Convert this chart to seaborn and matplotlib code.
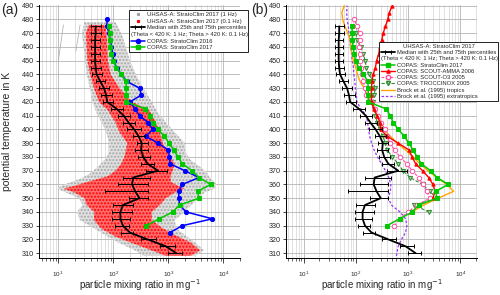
import numpy as np
import matplotlib
matplotlib.use('Agg')
import matplotlib.pyplot as plt
from matplotlib.lines import Line2D
from matplotlib.ticker import LogLocator, NullFormatter, MultipleLocator
import seaborn as sns

# UHSAS-A median profile (5 K bins) with 25th / 75th percentiles, mg^-1
med_theta = [310, 315, 320, 325, 330, 335, 340, 345, 350, 355, 360, 365, 370, 375, 380, 385, 390,
             395, 400, 405, 410, 415, 420, 425, 430, 435, 440, 445, 450, 455, 460, 465, 470, 475]
med_val = [1400, 900, 420, 200, 150, 135, 135, 150, 300, 250, 220, 230, 650, 420, 350, 320, 330,
           290, 240, 190, 155, 115, 78, 74, 68, 58, 50, 48, 47, 47, 47, 47, 48, 48]
med_p25 = [1000, 700, 320, 140, 110, 95, 95, 100, 190, 70, 120, 150, 400, 320, 280, 250, 270,
           230, 180, 150, 120, 90, 65, 60, 55, 48, 42, 40, 40, 40, 40, 40, 40, 40]
med_p75 = [1800, 1300, 600, 230, 190, 200, 220, 230, 420, 420, 420, 470, 950, 550, 460, 420, 420,
           380, 320, 250, 200, 150, 100, 95, 85, 72, 62, 60, 58, 58, 58, 58, 60, 60]

# UHSAS-A single measurements: envelope of the 1 Hz (grey) and 0.1 Hz (red) clouds
gray_theta = [308, 312, 318, 322, 328, 334, 340, 345, 350, 354, 357, 360, 364, 368, 372, 378, 384,
              390, 398, 405, 412, 420, 430, 440, 450, 460, 470, 478]
gray_lo = [350, 250, 120, 80, 45, 25, 22, 28, 24, 14, 9.5, 13, 25, 38, 50, 70, 85,
           85, 75, 62, 50, 42, 38, 33, 31, 29, 27, 30]
gray_hi = [3000, 4500, 3000, 2200, 1400, 1300, 2000, 2600, 3600, 4500, 7000, 7500, 6000, 5000, 4000,
           2500, 2000, 2000, 1300, 900, 650, 500, 350, 260, 200, 170, 140, 110]
red_theta = [308, 312, 318, 322, 328, 334, 340, 345, 350, 354, 357, 359, 362, 366, 370, 375, 380,
             385, 390, 398, 405, 414, 420, 430, 440, 450, 460, 470, 476]
red_lo = [900, 500, 200, 110, 60, 45, 45, 33, 30, 20, 12.5, 20, 35, 80, 110, 140, 160,
          170, 180, 130, 110, 80, 55, 45, 38, 34, 33, 32, 36]
red_hi = [2500, 3800, 2500, 1500, 800, 500, 500, 700, 900, 1300, 2000, 1500, 1100, 1100, 1200, 1300,
          1100, 900, 800, 700, 600, 450, 220, 130, 90, 80, 78, 76, 70]
streak1_theta = [476, 450]
streak1_val = [12.5, 10.1]
streak2_theta = [476, 457]
streak2_val = [25, 21]

# COPAS StratoClim 2016
sc16_theta = [325, 330, 335, 340, 345, 350, 355, 360, 365, 370, 375, 380, 385, 390, 395, 400, 405,
              410, 415, 420, 425, 430, 435, 440, 445, 450, 455, 460, 465, 470, 475, 480]
sc16_val = [1070, 1800, 6300, 2100, 1600, 1550, 1550, 1800, 3600, 2000, 1070, 1050, 1000, 650, 390,
            520, 430, 300, 250, 200, 325, 300, 175, 141, 115, 102, 98, 93, 88, 84, 77, 77]

# COPAS StratoClim 2017
sc17_theta = [330, 335, 340, 345, 350, 355, 360, 365, 370, 375, 380, 385, 390, 395, 400, 405, 410,
              415, 420, 425, 430, 435, 440, 445, 450, 455, 460, 465, 470, 475]
sc17_val = [395, 690, 1200, 1600, 3600, 3400, 5900, 3600, 2700, 1800, 1500, 1250, 1040, 850, 650,
            520, 460, 380, 173, 173, 173, 170, 140, 114, 99, 93, 89, 86, 86, 84]

# COPAS SCOUT-AMMA 2006
amma_theta = [350, 355, 360, 365, 370, 375, 380, 385, 390, 395, 400, 405, 410, 415, 420, 425, 430,
              435, 440, 445, 450, 455, 460, 465, 470, 475, 480, 485, 490]
amma_val = [3000, 3300, 3000, 2500, 1900, 1400, 1200, 1050, 650, 400, 300, 290, 255, 220, 200, 197,
            200, 205, 215, 238, 250, 275, 288, 315, 335, 370, 410, 440, 500]

# COPAS SCOUT-O3 2005
o3_theta = [330, 335, 340, 345, 350, 355, 360, 365, 370, 375, 380, 385, 390, 395, 400, 405, 410,
            415, 420, 425, 430, 435, 440, 445, 450, 455, 460, 465, 470, 475, 480]
o3_val = [550, 700, 1000, 1500, 2600, 2300, 1900, 1600, 1200, 950, 700, 560, 450, 400, 360, 310, 270,
          235, 200, 160, 148, 140, 132, 125, 118, 118, 115, 120, 118, 105, 93]

# COPAS TROCCINOX 2005
tro_theta = [340, 345, 350, 355, 360, 365, 370, 375, 380, 385, 390, 395, 400, 405, 410, 415, 420,
             425, 430, 435, 440, 445, 450, 455, 460, 465, 470]
tro_val = [2500, 1300, 3600, 2600, 1900, 1100, 800, 650, 500, 400, 370, 330, 290, 260, 235, 225, 215,
           225, 235, 215, 180, 160, 150, 140, 125, 105, 100]

# Brock et al. (1995)
trop_theta = [340, 345, 350, 355, 360, 365, 370, 375, 380, 385, 390, 395, 400, 405, 410, 415, 420,
              425, 430, 435, 440, 445, 450, 455, 460, 465, 470, 475, 480, 485, 490]
trop_val = [1200, 2000, 3800, 7500, 5500, 3600, 2400, 1700, 1250, 900, 620, 460, 350, 300, 250, 230,
            190, 165, 145, 120, 108, 100, 90, 85, 80, 78, 70, 62, 56, 54, 60]
extra_theta = [308, 315, 320, 325, 330, 335, 340, 345, 350, 355, 360, 365, 370, 375, 380, 385, 390,
               395, 400, 405, 410, 415, 420, 425, 430, 435, 440, 445, 450, 455, 460, 465, 470, 475,
               480, 485, 490]
extra_val = [600, 650, 750, 900, 950, 900, 700, 480, 420, 460, 470, 430, 370, 310, 260, 225, 200,
             185, 175, 168, 160, 125, 105, 102, 98, 96, 92, 90, 85, 83, 79, 77, 74, 72, 68, 67, 68]

sns.set_theme(style='ticks')
plt.rcParams['font.family'] = ['Liberation Sans', 'DejaVu Sans']
plt.rcParams['legend.fontsize'] = 4.2
plt.rcParams['hatch.linewidth'] = 1.0

BLUE, GREEN, RED = '#0000ff', '#00c800', '#ff0000'
PINK, DKGREEN, ORANGE, PURPLE = '#ff4da6', '#2e8b2e', '#ffa500', '#9b30ff'

fig = plt.figure(figsize=(5.0, 2.95), dpi=100)
ax_a = fig.add_axes([0.078, 0.1255, 0.402, 0.8576])
ax_b = fig.add_axes([0.572, 0.1255, 0.382, 0.8576])


def style_axes(ax, xlim):
    ax.set_xscale('log')
    ax.set_xlim(*xlim)
    ax.set_ylim(306.5, 490.5)
    ax.yaxis.set_major_locator(MultipleLocator(10))
    ax.xaxis.set_major_locator(LogLocator(base=10, numticks=10))
    ax.xaxis.set_minor_locator(LogLocator(base=10, subs=np.arange(2, 10), numticks=20))
    ax.xaxis.set_minor_formatter(NullFormatter())
    ax.grid(True, which='major', color='#b4b4b4', lw=0.6)
    ax.grid(True, which='minor', axis='x', color='#d4d4d4', lw=0.5)
    ax.set_axisbelow(True)
    sns.despine(ax=ax)
    for s in ('left', 'bottom'):
        ax.spines[s].set_linewidth(0.7)
        ax.spines[s].set_color('black')
    ax.tick_params(axis='y', labelsize=5.2, length=2.5, width=0.6, pad=1.2)
    ax.tick_params(axis='x', which='major', labelsize=4.5, length=3.5, width=0.6, pad=5)
    ax.tick_params(axis='x', which='minor', length=2, width=0.5)
    ax.set_xlabel('particle mixing ratio in mg$^{-1}$', fontsize=7, labelpad=-1)
    ax.set_ylabel('')


def profile(ax, vals, theta, color, marker=None, ms=3, ls='-', lw=1.0, mfc=None, z=3):
    sns.lineplot(x=vals, y=theta, orient='y', errorbar=None, ax=ax, color=color,
                 marker=marker, markersize=ms, linestyle=ls, linewidth=lw,
                 markeredgecolor=color, markeredgewidth=0.7,
                 markerfacecolor=mfc if mfc else color, zorder=z)


def median(ax):
    m = np.array(med_val)
    return ax.errorbar(med_val, med_theta,
                       xerr=[m - np.array(med_p25), np.array(med_p75) - m],
                       color='black', lw=1.3, elinewidth=0.7, capsize=1.5, capthick=0.7,
                       zorder=5)


# ---- panel (a)
ax = ax_a
ax.fill_betweenx(gray_theta, gray_lo, gray_hi, facecolor='#e0e0e0', edgecolor='#a6a6a6',
                 hatch='.....', lw=0, zorder=1)
ax.fill_betweenx(red_theta, red_lo, red_hi, facecolor='#ff6e6e', edgecolor='#ff0000',
                 hatch='.....', lw=0, zorder=2)
ax.plot(streak1_val, streak1_theta, color='#a8a8a8', lw=0.5, zorder=1)
ax.plot(streak2_val, streak2_theta, color='#a8a8a8', lw=0.5, zorder=1)
eb_a = median(ax)
profile(ax, sc16_val, sc16_theta, BLUE, marker='o', ms=3, lw=1.1)
profile(ax, sc17_val, sc17_theta, GREEN, marker='s', ms=2.6, lw=1.1)
style_axes(ax, (4.5, 2.0e4))
ax.set_ylabel('potential temperature in K', fontsize=7.5, labelpad=7)

blank = Line2D([], [], ls='', marker='')
h_a = [Line2D([], [], ls='', marker='s', ms=1.3, color='#a0a0a0'),
       Line2D([], [], ls='', marker='s', ms=1.3, color=RED),
       eb_a, blank,
       Line2D([], [], color=BLUE, marker='o', ms=3, lw=1.1),
       Line2D([], [], color=GREEN, marker='s', ms=2.6, lw=1.1)]
l_a = ['UHSAS-A: StratoClim 2017 (1 Hz)', 'UHSAS-A: StratoClim 2017 (0.1 Hz)',
       'Median with 25th and 75th percentiles', ' ',
       'COPAS: StratoClim 2016', 'COPAS: StratoClim 2017']
leg_a = ax.legend(h_a, l_a, loc='upper right', bbox_to_anchor=(0.496, 0.966),
                  bbox_transform=fig.transFigure, fancybox=False, edgecolor='black',
                  framealpha=1, borderpad=0.35, labelspacing=0.26, handlelength=2.3,
                  handletextpad=0.35, borderaxespad=0)
leg_a.get_frame().set_linewidth(0.6)

# ---- panel (b)
ax = ax_b
eb_b = median(ax)
profile(ax, extra_val, extra_theta, PURPLE, ls=(0, (2, 1.5)), lw=0.9, z=2)
profile(ax, trop_val, trop_theta, ORANGE, lw=1.0, z=2)
profile(ax, tro_val, tro_theta, DKGREEN, marker='v', ms=3, ls=(0, (3, 1.5)), lw=0.8, mfc='#9ad89a')
profile(ax, o3_val, o3_theta, PINK, marker='o', ms=3.2, ls=(0, (2.5, 1.5)), lw=0.8, mfc='white')
profile(ax, amma_val, amma_theta, RED, marker='^', ms=2.4, lw=1.0)
profile(ax, sc17_val, sc17_theta, GREEN, marker='s', ms=2.6, lw=1.1)
style_axes(ax, (4.6, 2.1e4))

h_b = [eb_b, blank,
       Line2D([], [], color=GREEN, marker='s', ms=2.6, lw=1.1),
       Line2D([], [], color=RED, marker='^', ms=2.4, lw=1.0),
       Line2D([], [], color=PINK, marker='o', ms=3.2, ls=(0, (2.5, 1.5)), lw=0.8, mfc='white'),
       Line2D([], [], color=DKGREEN, marker='v', ms=3, ls=(0, (3, 1.5)), lw=0.8, mfc='#9ad89a'),
       Line2D([], [], color=ORANGE, lw=1.0),
       Line2D([], [], color=PURPLE, ls=(0, (2, 1.5)), lw=0.9)]
l_b = ['Median with 25th and 75th percentiles', ' ',
       'COPAS: StratoClim 2017', 'COPAS: SCOUT-AMMA 2006', 'COPAS: SCOUT-O3 2005',
       'COPAS: TROCCINOX 2005', 'Brock et al. (1995) tropics', 'Brock et al. (1995) extratropics']
leg_b = ax.legend(h_b, l_b, loc='upper right', bbox_to_anchor=(0.996, 0.858),
                  bbox_transform=fig.transFigure, fancybox=False, edgecolor='black',
                  framealpha=1, borderpad=0.35, labelspacing=0.2, handlelength=2.3,
                  handletextpad=0.35, borderaxespad=0,
                  title='UHSAS-A: StratoClim 2017', title_fontsize=4.2)
leg_b.get_frame().set_linewidth(0.6)

fig.text(0.003, 0.99, '(a)', fontsize=10, va='top', ha='left')
fig.text(0.503, 0.99, '(b)', fontsize=10, va='top', ha='left')

# the "(Theta ...)" note spans the full legend width, without handle indent
fig.canvas.draw()
inv = fig.transFigure.inverted()
for leg, idx in ((leg_a, 3), (leg_b, 1)):
    box = leg.get_window_extent()
    tb = leg.get_texts()[idx].get_window_extent()
    x0, yc = inv.transform((box.x0 + 2.0, (tb.y0 + tb.y1) / 2))
    fig.text(x0, yc, '(Theta < 420 K: 1 Hz; Theta > 420 K: 0.1 Hz)', fontsize=4.2,
             va='center', ha='left', zorder=10)

fig.savefig('out.png', dpi=100)
